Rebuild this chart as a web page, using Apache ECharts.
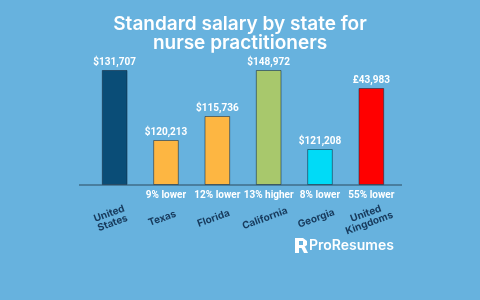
<!DOCTYPE html>
<html>
<head>
<meta charset="utf-8">
<script src="https://cdn.jsdelivr.net/npm/echarts@6/dist/echarts.min.js"></script>
<style>
  html, body { margin: 0; padding: 0; background: #67b2de; }
  #chart { width: 480px; height: 300px; }
</style>
</head>
<body>
<div id="chart"></div>
<script>
var categories = ['United\nStates', 'Texas', 'Florida', 'California', 'Georgia', 'United\nKingdoms'];
// bar heights as drawn in the picture (not proportional to salary)
var barHeights = [115, 45, 69, 115, 36, 97];
var salaryLabels = ['$131,707', '$120,213', '$115,736', '$148,972', '$121,208', '£43,983'];
var diffLabels = ['', '9% lower', '12% lower', '13% higher', '8% lower', '55% lower'];
var barColors = ['#0a4d77', '#fdb642', '#fdb642', '#a8c86c', '#00dbf7', '#ff0000'];

var gridLeft = 89, gridRight = 83, gridTop = 65, gridBottom = 115;
var baseY = 300 - gridBottom;

var myChart = echarts.init(document.getElementById('chart'));

var option = {
    backgroundColor: '#67b2de',
    title: {
        text: 'Standard salary by state for\nnurse practitioners',
        left: 'center',
        top: 10,
        textStyle: {
            color: '#ffffff',
            fontFamily: 'Inter',
            fontWeight: 600,
            fontSize: 19,
            lineHeight: 19
        }
    },
    grid: { left: gridLeft, right: gridRight, top: gridTop, bottom: gridBottom },
    xAxis: {
        type: 'category',
        data: diffLabels,
        axisLine: { show: false },
        axisTick: { show: false },
        axisLabel: {
            interval: 0,
            margin: 5,
            color: '#ffffff',
            fontFamily: 'Roboto',
            fontWeight: 'bold',
            fontSize: 10
        }
    },
    yAxis: { type: 'value', min: 0, max: 120, show: false },
    series: [
        {
            type: 'bar',
            barCategoryGap: '50%',
            data: barHeights.map(function (v, i) {
                return {
                    value: v,
                    itemStyle: { color: barColors[i] }
                };
            }),
            itemStyle: { borderColor: 'rgba(20,40,60,0.55)', borderWidth: 1 },
            label: {
                show: true,
                position: 'top',
                distance: 3,
                color: '#ffffff',
                fontFamily: 'Roboto',
                fontWeight: 'bold',
                fontSize: 10,
                formatter: function (p) { return salaryLabels[p.dataIndex]; }
            }
        },
        {
            // carrier for the rotated category names
            type: 'bar',
            barGap: '-100%',
            silent: true,
            data: categories.map(function () { return 0; }),
            itemStyle: { color: 'transparent' },
            label: {
                show: true,
                position: 'bottom',
                distance: 32,
                offset: [-4, 0],
                rotate: 20,
                align: 'center',
                verticalAlign: 'middle',
                color: '#173a5c',
                fontFamily: 'Inter',
                fontWeight: 'bold',
                fontSize: 10,
                lineHeight: 10,
                formatter: function (p) { return categories[p.dataIndex]; }
            }
        }
    ],
    graphic: [
        {
            type: 'line',
            shape: { x1: 79, y1: baseY, x2: 402, y2: baseY },
            style: { stroke: '#2d4a5e', lineWidth: 1 },
            z: 10
        },
        {
            type: 'group',
            left: 295,
            top: 238,
            children: [
                { type: 'rect', shape: { x: 0, y: 0, width: 4, height: 15 }, style: { fill: '#ffffff' } },
                { type: 'polygon', shape: { points: [[0, 0], [8, 0], [12, 3], [12, 7], [8, 10], [4, 10], [4, 7], [8, 7], [8, 3], [0, 3]] }, style: { fill: '#ffffff' } },
                { type: 'polygon', shape: { points: [[6, 9], [10, 9], [13, 15], [9, 15]] }, style: { fill: '#ffffff' } }
            ]
        },
        {
            type: 'text',
            left: 309,
            top: 239,
            style: {
                text: 'ProResumes',
                fill: '#ffffff',
                font: '600 14px Inter'
            }
        }
    ]
};

myChart.setOption(option);
</script>
</body>
</html>
